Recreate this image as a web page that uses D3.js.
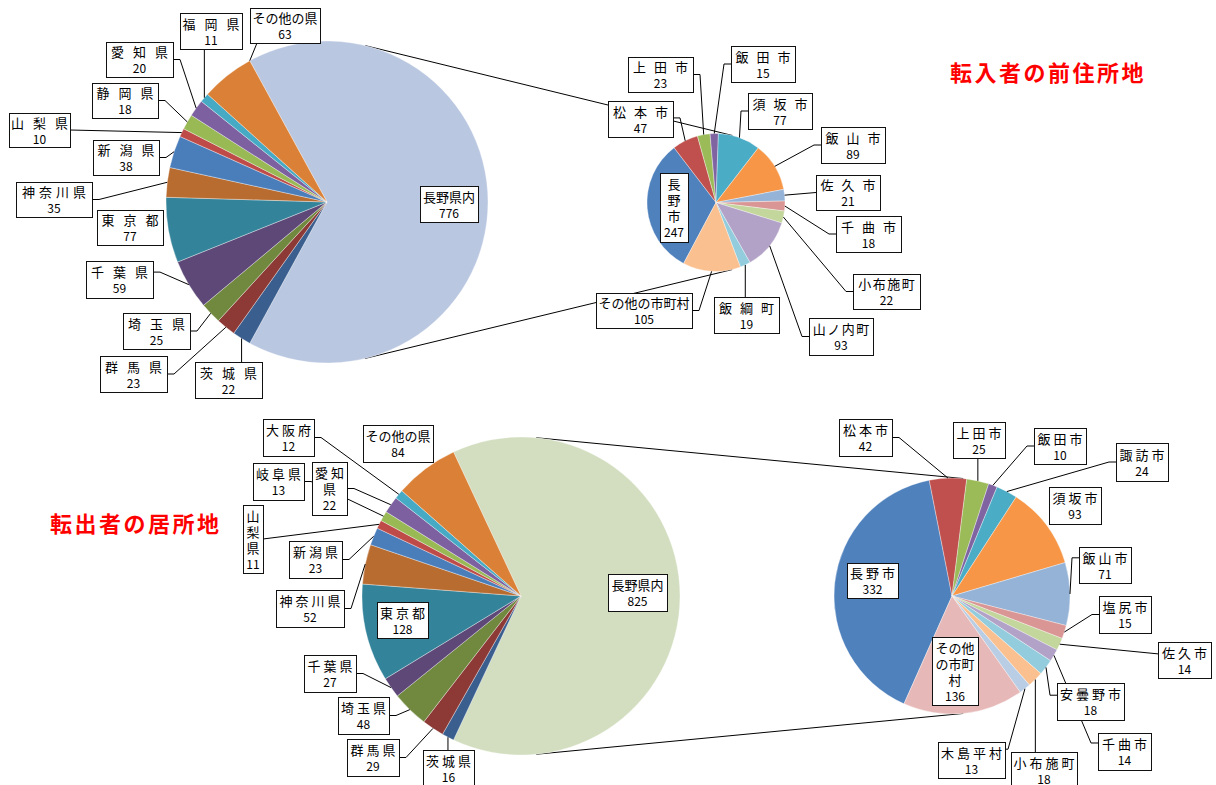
<!DOCTYPE html>
<html lang="ja">
<head>
<meta charset="utf-8">
<script src="https://cdn.jsdelivr.net/npm/d3@7"></script>
<style>
  body { margin: 0; background: #fff; }
  svg { display: block; font-family: "Noto Sans CJK JP", "Noto Sans", sans-serif; }
</style>
</head>
<body>
<svg id="chart" width="1216" height="785"></svg>
<script>
// 転入者の前住所地
const inPrefs = ['茨城県', '群馬県', '埼玉県', '千葉県', '東京都', '神奈川県', '新潟県', '山梨県', '静岡県', '愛知県', '福岡県', 'その他の県'];
const inPrefVals = [22, 23, 25, 59, 77, 35, 38, 10, 18, 20, 11, 63];
const inCities = ['長野市', '松本市', '上田市', '飯田市', '須坂市', '飯山市', '佐久市', '千曲市', '小布施町', '山ノ内町', '飯綱町', 'その他の市町村'];
const inCityVals = [247, 47, 23, 15, 77, 89, 21, 18, 22, 93, 19, 105];

// 転出者の居所地
const outPrefs = ['茨城県', '群馬県', '埼玉県', '千葉県', '東京都', '神奈川県', '新潟県', '山梨県', '岐阜県', '愛知県', '大阪府', 'その他の県'];
const outPrefVals = [16, 29, 48, 27, 128, 52, 23, 11, 13, 22, 12, 84];
const outCities = ['長野市', '松本市', '上田市', '飯田市', '諏訪市', '須坂市', '飯山市', '塩尻市', '佐久市', '千曲市', '安曇野市', '小布施町', '木島平村', 'その他の市町村'];
const outCityVals = [332, 42, 25, 10, 24, 93, 71, 15, 14, 14, 18, 18, 13, 136];

const withinName = '長野県内';
const inTitle = '転入者の前住所地';
const outTitle = '転出者の居所地';

// couleurs façon Excel
const prefColors = ['#3A5F8F', '#8D3A37', '#71893F', '#5E4878', '#33839A', '#B96C30', '#4A7EBB', '#BE4B48', '#98B954', '#7D60A0', '#46AAC5', '#DA8137'];
const cityColors = ['#4F81BD', '#C0504D', '#9BBB59', '#8064A2', '#4BACC6', '#F79646', '#95B3D7', '#D99694', '#C3D69B', '#B3A2C7', '#93CDDD', '#FAC090', '#B9CDE5', '#E6B9B8'];

// positions des étiquettes (mise en page)
const inMainLabels = {
  '長野県内': { x: 420, y: 186, w: 58, h: 36, pitch: 13 },
  '茨城県': { x: 195, y: 362, w: 67, h: 36, side: 't' },
  '群馬県': { x: 100, y: 356, w: 67, h: 36, side: 'r' },
  '埼玉県': { x: 123, y: 313, w: 67, h: 36, side: 'r' },
  '千葉県': { x: 86, y: 261, w: 67, h: 37, side: 'r', ay: 0.3 },
  '東京都': { x: 97, y: 210, w: 66, h: 35 },
  '神奈川県': { x: 16, y: 182, w: 76, h: 35, side: 'r' },
  '新潟県': { x: 93, y: 140, w: 66, h: 35, side: 'r' },
  '山梨県': { x: 9, y: 113, w: 61, h: 34, side: 'r', stub: 0 },
  '静岡県': { x: 92, y: 83, w: 66, h: 35, side: 'r' },
  '愛知県': { x: 106, y: 42, w: 67, h: 35, side: 'r' },
  '福岡県': { x: 180, y: 13, w: 62, h: 36, side: 'b' },
  'その他の県': { x: 250, y: 8, w: 70, h: 35, side: 'b', at: 1 }
};
const inSubLabels = {
  '長野市': { x: 660, y: 173, w: 28, h: 69, wrap: 1 },
  '松本市': { x: 608, y: 101, w: 65, h: 36, side: 'r', ay: 0.47 },
  '上田市': { x: 628, y: 57, w: 65, h: 35, side: 'r' },
  '飯田市': { x: 731, y: 46, w: 64, h: 36, side: 'l' },
  '須坂市': { x: 748, y: 93, w: 64, h: 36, side: 'l' },
  '飯山市': { x: 821, y: 127, w: 64, h: 36, side: 'l' },
  '佐久市': { x: 816, y: 175, w: 64, h: 35, side: 'l', stub: 0 },
  '千曲市': { x: 836, y: 216, w: 65, h: 36, side: 'l' },
  '小布施町': { x: 853, y: 274, w: 67, h: 35, side: 'l' },
  '山ノ内町': { x: 809, y: 318, w: 64, h: 37, side: 'l' },
  '飯綱町': { x: 714, y: 297, w: 65, h: 36, side: 't' },
  'その他の市町村': { x: 596, y: 293, w: 96, h: 35, side: 'r' }
};
const outMainLabels = {
  '長野県内': { x: 608, y: 574, w: 59, h: 37, pitch: 13 },
  '茨城県': { x: 423, y: 750, w: 51, h: 37, side: 't' },
  '群馬県': { x: 347, y: 739, w: 52, h: 37, side: 'r' },
  '埼玉県': { x: 338, y: 697, w: 51, h: 37, side: 'r' },
  '千葉県': { x: 304, y: 655, w: 52, h: 37, side: 'r' },
  '東京都': { x: 377, y: 602, w: 51, h: 36 },
  '神奈川県': { x: 276, y: 590, w: 68, h: 37, side: 'r' },
  '新潟県': { x: 289, y: 541, w: 53, h: 37, side: 'r' },
  '山梨県': { x: 243, y: 505, w: 20, h: 68, wrap: 1, side: 'r', stub: 0 },
  '岐阜県': { x: 253, y: 463, w: 51, h: 37, side: 'r' },
  '愛知県': { x: 312, y: 462, w: 35, h: 53, wrap: 2, side: 'r' },
  '大阪府': { x: 263, y: 419, w: 51, h: 37, side: 'r' },
  'その他の県': { x: 363, y: 425, w: 70, h: 37, pitch: 13 }
};
const outSubLabels = {
  '長野市': { x: 847, y: 563, w: 51, h: 35 },
  '松本市': { x: 839, y: 419, w: 53, h: 37, side: 'r' },
  '上田市': { x: 953, y: 422, w: 52, h: 36, side: 'b' },
  '飯田市': { x: 1034, y: 428, w: 52, h: 36, side: 'l' },
  '諏訪市': { x: 1116, y: 443, w: 52, h: 38, side: 'l' },
  '須坂市': { x: 1049, y: 487, w: 52, h: 37 },
  '飯山市': { x: 1079, y: 547, w: 52, h: 36, side: 'l', ay: 0.3 },
  '塩尻市': { x: 1099, y: 596, w: 52, h: 37, side: 'l' },
  '佐久市': { x: 1158, y: 642, w: 53, h: 36, side: 'l', stub: 0, ay: 0.33 },
  '千曲市': { x: 1098, y: 733, w: 53, h: 37, side: 'l', ay: 0.27 },
  '安曇野市': { x: 1057, y: 683, w: 67, h: 37, side: 'l', ay: 0.33 },
  '小布施町': { x: 1011, y: 752, w: 66, h: 37, side: 't' },
  '木島平村': { x: 938, y: 742, w: 67, h: 36, side: 'r', stub: 3, ay: 0.2 },
  'その他の市町村': { x: 932, y: 637, w: 46, h: 68, wrap: 3, pitch: 13 }
};

const svg = d3.select('#chart');
const rad = d => d * Math.PI / 180;

function drawPieOfPie(cfg) {
  const g = svg.append('g');
  const m = cfg.main, s = cfg.sub;
  const total = d3.sum(cfg.cityVals);

  const mainData = [{ name: withinName, value: total, color: cfg.withinColor }]
    .concat(cfg.prefs.map((p, i) => ({ name: p, value: cfg.prefVals[i], color: prefColors[i] })));
  const subData = cfg.cities.map((c, i) => ({ name: c, value: cfg.cityVals[i], color: cityColors[i] }));

  const grand = d3.sum(mainData, d => d.value);
  const half = Math.PI * total / grand;
  const mainStart = Math.PI / 2 - half;
  const mainArcs = d3.pie().sort(null).value(d => d.value)
    .startAngle(mainStart).endAngle(mainStart + 2 * Math.PI)(mainData);
  const subArcs = d3.pie().sort(null).value(d => d.value)
    .startAngle(rad(s.start)).endAngle(rad(s.start) + 2 * Math.PI)(subData);

  // lignes de liaison (tangentes extérieures)
  const dx = s.cx - m.cx, dy = s.cy - m.cy;
  const dist = Math.hypot(dx, dy);
  const base = Math.atan2(dy, dx);
  const beta = Math.acos((m.r - s.r) / dist);
  [base - beta, base + beta].forEach(phi => {
    g.append('line')
      .attr('x1', m.cx + m.r * Math.cos(phi)).attr('y1', m.cy + m.r * Math.sin(phi))
      .attr('x2', s.cx + s.r * Math.cos(phi)).attr('y2', s.cy + s.r * Math.sin(phi))
      .attr('stroke', '#000').attr('stroke-width', 1);
  });

  const pies = [
    { arcs: mainArcs, c: m, labels: cfg.mainLabels, pitch: cfg.mainPitch },
    { arcs: subArcs, c: s, labels: cfg.subLabels, pitch: cfg.subPitch }
  ];

  pies.forEach(p => {
    const arc = d3.arc().innerRadius(0).outerRadius(p.c.r);
    g.append('g')
      .attr('transform', `translate(${p.c.cx},${p.c.cy})`)
      .selectAll('path')
      .data(p.arcs)
      .join('path')
      .attr('d', arc)
      .attr('fill', d => d.data.color)
      .attr('stroke', 'rgba(255,255,255,0.5)')
      .attr('stroke-width', 0.7);
  });

  // lignes de rappel puis étiquettes par-dessus
  const lineGroup = g.append('g');
  const boxGroup = g.append('g');
  pies.forEach(p => {
    p.arcs.forEach(a => {
      const lb = p.labels[a.data.name];
      if (!lb) return;
      if (lb.side) {
        const ang = a.startAngle + (a.endAngle - a.startAngle) * (lb.at === undefined ? 0.5 : lb.at);
        const pt = [p.c.cx + p.c.r * Math.sin(ang), p.c.cy - p.c.r * Math.cos(ang)];
        let pts;
        if (lb.side === 'l' || lb.side === 'r') {
          const x0 = lb.side === 'r' ? lb.x + lb.w : lb.x;
          const y0 = lb.y + lb.h * (lb.ay === undefined ? 0.5 : lb.ay);
          const st = lb.stub === undefined ? 7 : lb.stub;
          const x1 = lb.side === 'r' ? x0 + st : x0 - st;
          pts = [[x0, y0], [x1, y0], pt];
        } else {
          const y0 = lb.side === 'b' ? lb.y + lb.h : lb.y;
          const x0 = Math.max(lb.x + 7, Math.min(lb.x + lb.w - 7, pt[0]));
          pts = [[x0, y0], pt];
        }
        lineGroup.append('path')
          .attr('d', d3.line()(pts))
          .attr('fill', 'none')
          .attr('stroke', '#000')
          .attr('stroke-width', 1);
      }
      drawLabel(boxGroup, lb, a.data, p.pitch);
    });
  });

  svg.append('text')
    .attr('x', cfg.title.x).attr('y', cfg.title.y)
    .attr('fill', '#FF0000')
    .attr('font-size', 22)
    .attr('font-weight', 'bold')
    .attr('letter-spacing', 2.5)
    .text(cfg.title.text);
}

function drawLabel(parent, lb, d, pitchFn) {
  const gl = parent.append('g');
  gl.append('rect')
    .attr('x', Math.round(lb.x) + 0.5).attr('y', Math.round(lb.y) + 0.5)
    .attr('width', lb.w).attr('height', lb.h)
    .attr('fill', '#fff').attr('stroke', '#111').attr('stroke-width', 1);

  const chars = Array.from(d.name);
  const lines = [];
  if (lb.wrap) {
    for (let i = 0; i < chars.length; i += lb.wrap) lines.push(chars.slice(i, i + lb.wrap));
  } else {
    lines.push(chars);
  }
  const n = lines.length + 1;
  const cx = lb.x + lb.w / 2;
  const baseY = i => lb.y + lb.h / 2 + (i - (n - 1) / 2) * 16 + 5.5;

  // un seul élément texte par étiquette
  const t = gl.append('text')
    .attr('text-anchor', 'middle')
    .attr('font-size', 13)
    .attr('fill', '#000');

  lines.forEach((cs, i) => {
    const pitch = lb.pitch || pitchFn(cs.length);
    cs.forEach((c, j) => {
      t.append('tspan')
        .attr('x', cx + (j - (cs.length - 1) / 2) * pitch)
        .attr('y', baseY(i))
        .text(c);
    });
  });
  t.append('tspan')
    .attr('x', cx)
    .attr('y', baseY(n - 1))
    .attr('font-size', 12)
    .text(d.value);
}

drawPieOfPie({
  prefs: inPrefs, prefVals: inPrefVals, cities: inCities, cityVals: inCityVals,
  withinColor: '#B9C7E1',
  main: { cx: 327, cy: 202, r: 161 },
  sub: { cx: 716, cy: 202.5, r: 69, start: 208 },
  mainLabels: inMainLabels, subLabels: inSubLabels,
  mainPitch: n => n === 3 ? 22 : n === 4 ? 17 : 13,
  subPitch: n => n === 3 ? 21 : n === 4 ? 14.5 : 13,
  title: { text: inTitle, x: 950, y: 81 }
});

drawPieOfPie({
  prefs: outPrefs, prefVals: outPrefVals, cities: outCities, cityVals: outCityVals,
  withinColor: '#D2DEBF',
  main: { cx: 521, cy: 596, r: 159 },
  sub: { cx: 952, cy: 596, r: 118, start: 204 },
  mainLabels: outMainLabels, subLabels: outSubLabels,
  mainPitch: n => n <= 4 ? 16 : 13,
  subPitch: n => n <= 4 ? 16 : 13,
  title: { text: outTitle, x: 50, y: 532 }
});
</script>
</body>
</html>
